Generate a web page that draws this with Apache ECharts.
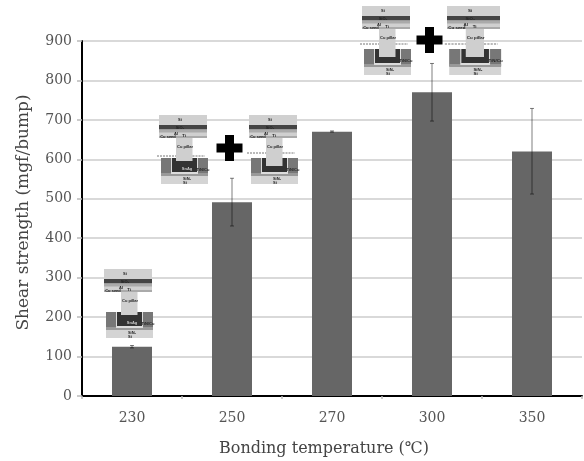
<!DOCTYPE html>
<html><head><meta charset="utf-8">
<style>html,body{margin:0;padding:0;background:#fff}#c{width:584px;height:461px;filter:blur(0.45px)}</style>
<script src="https://cdn.jsdelivr.net/npm/echarts@6/dist/echarts.min.js"></script>
</head><body><div id="c"></div>
<script>
const categories = ['230','250','270','300','350'];
const strength = [125,491,670,770,620];
const errLow = [122,431,669,697,512];
const errHigh = [128,552,672,843,729];
const yTicks = {min:0,max:900,interval:100};
const FONT = '"DejaVu Serif","Noto Sans CJK KR",serif';

// Schematic inset of the bump cross-section (decoration, not data)
function inset(x,y,opt){
  const Z=50;
  const R=(a,b,w,h,f)=>({type:'rect',z:Z,shape:{x:a,y:b,width:w,height:h},style:{fill:f}});
  const T=(a,b,s,c)=>({type:'text',z:Z+1,x:a,y:b,style:{text:s,fill:c||'#222',font:'bold 4px "Liberation Sans"',align:'center',verticalAlign:'middle'}});
  const w=opt.w||48, k=w/48;
  const ch=[
    R(2,43,47,26,'#d4d4d4'),
    R(2,43,47,17,'#777'),
    R(2,58,47,3,'#999'),
    R(12,43,27,16,'#dcdcdc'),
    R(13,43,25,14,'#333'),
    R(0,0,48,23,'#d0d0d0'),
    R(0,10,48,4.5,'#444'),
    R(0,14.5,48,3,'#aaa'),
    R(0,21,48,2,'#aaa')
  ];
  const pb=opt.pillarBottom;
  ch.push(R(17,23,16.5,pb-23,'#cfcfcf'));
  if(opt.crack){
    ch.push({type:'line',z:Z,shape:{x1:-2,y1:opt.crack,x2:17,y2:opt.crack},style:{stroke:'#777',lineWidth:1,lineDash:[2,1]}});
    ch.push({type:'line',z:Z,shape:{x1:33.5,y1:opt.crack,x2:46,y2:opt.crack},style:{stroke:'#777',lineWidth:1,lineDash:[2,1]}});
  }
  ch.push(T(21,5,'Si'),T(21,12.5,'SiO₂'),T(17,18.5,'Al'),T(9,22,'Cu seed'),T(25,20.5,'Ti'),T(26,32,'Cu pillar'),
          T(28,63.5,'SiNₓ'),T(26,67.5,'Si'),T(44,55,'TiN/Cu'));
  if(opt.box) ch.push(T(28,54,'SnAg','#ccc'));
  return {type:'group',x:x,y:y,scaleX:k,silent:true,children:ch};
}
function plus(cx,cy){
  return {type:'group',x:cx,y:cy,silent:true,children:[
    {type:'rect',z:50,shape:{x:-13,y:-4.5,width:26,height:9},style:{fill:'#000'}},
    {type:'rect',z:50,shape:{x:-4.5,y:-13,width:9,height:26},style:{fill:'#000'}}
  ]};
}
const chart=echarts.init(document.getElementById('c'),null,{renderer:'canvas'});
chart.setOption({
  animation:false,
  backgroundColor:'#fff',
  grid:{left:82,right:2,top:41,bottom:65,outerBoundsMode:'none'},
  xAxis:{type:'category',data:categories,
    name:'Bonding temperature (℃)',nameLocation:'middle',nameGap:45,
    nameTextStyle:{fontFamily:FONT,fontSize:16,color:'#444',padding:[0,16,0,0]},
    axisLine:{lineStyle:{color:'#000',width:2}},
    axisTick:{show:true,length:3,lineStyle:{color:'#bbb',width:1.5}},
    axisLabel:{fontFamily:FONT,fontSize:14,color:'#555',margin:15},
    splitLine:{show:false}},
  yAxis:{type:'value',min:yTicks.min,max:yTicks.max,interval:yTicks.interval,
    name:'Shear strength (mgf/bump)',nameLocation:'middle',nameGap:50,nameRotate:90,
    nameTextStyle:{fontFamily:FONT,fontSize:17,color:'#444',padding:[0,0,0,12]},
    axisLine:{show:true,lineStyle:{color:'#000',width:2}},
    axisTick:{show:true,length:5,lineStyle:{color:'#bbb',width:1.5}},
    axisLabel:{fontFamily:FONT,fontSize:14,color:'#555',margin:10},
    splitLine:{show:true,lineStyle:{color:'#ccc',width:1.5}}},
  series:[
    {type:'bar',data:strength,barWidth:40,itemStyle:{color:'#666'},z:2},
    {type:'custom',z:3,silent:true,
      data:categories.map((c,i)=>[i,errLow[i],errHigh[i]]),
      encode:{x:0,y:[1,2]},
      renderItem(params,api){
        const i=api.value(0);
        const lo=api.coord([i,api.value(1)]), hi=api.coord([i,api.value(2)]);
        const st={stroke:'rgba(0,0,0,0.5)',lineWidth:1,fill:null};
        return {type:'group',children:[
          {type:'line',shape:{x1:lo[0],y1:lo[1],x2:hi[0],y2:hi[1]},style:st},
          {type:'line',shape:{x1:lo[0]-2,y1:lo[1],x2:lo[0]+2,y2:lo[1]},style:st},
          {type:'line',shape:{x1:hi[0]-2,y1:hi[1],x2:hi[0]+2,y2:hi[1]},style:st}
        ]};
      }}
  ],
  graphic:[
    inset(104,269,{pillarBottom:46,box:true}),
    inset(159,115,{pillarBottom:46,box:true,crack:41}),
    inset(249,115,{pillarBottom:51,crack:38}),
    plus(229.5,148),
    inset(362,6,{pillarBottom:51,crack:38}),
    inset(447,6,{pillarBottom:51,crack:38,w:53}),
    plus(429.5,40)
  ]
});
</script></body></html>
